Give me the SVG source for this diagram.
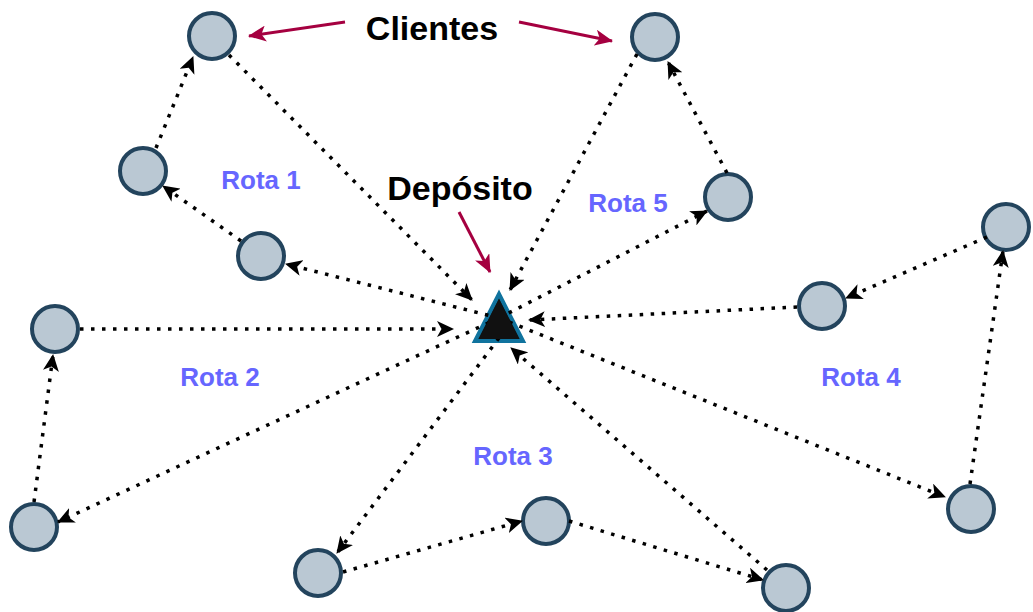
<svg xmlns="http://www.w3.org/2000/svg" width="1033" height="612" viewBox="0 0 1033 612">
  <style>
    .client { fill: #bac8d3; stroke: #23445d; stroke-width: 4; }
    .depot { fill: #111; stroke: #10739e; stroke-width: 4; stroke-linejoin: miter; }
    .depot-core { fill: #111; stroke: none; }
    .route { fill: none; stroke: #000; stroke-width: 3.5; stroke-dasharray: 3.5 7.5; marker-end: url(#head); }
    .pointer { fill: none; stroke: #a50040; stroke-width: 3; marker-end: url(#headRed); }
    .title { font-family: "Liberation Sans", Arial, sans-serif; font-weight: bold; font-size: 34px; fill: #000; text-anchor: middle; }
    .rota { font-family: "Liberation Sans", Arial, sans-serif; font-weight: bold; font-size: 26px; fill: #6666ff; text-anchor: middle; }
  </style>
  <defs>
    <marker id="head" viewBox="0 0 17 16" refX="16" refY="8" markerWidth="17" markerHeight="16" markerUnits="userSpaceOnUse" orient="auto">
      <path d="M0,0 L17,8 L0,16 L4.5,8 Z" fill="#000" stroke="none"/>
    </marker>
    <marker id="headRed" viewBox="0 0 18 16" refX="17" refY="8" markerWidth="18" markerHeight="16" markerUnits="userSpaceOnUse" orient="auto">
      <path d="M0,0 L18,8 L0,16 L4.5,8 Z" fill="#a50040" stroke="none"/>
    </marker>
  </defs>

  <rect width="1033" height="612" fill="#fff"/>

  <!-- depot -->
  <g id="deposito">
    <polygon class="depot" points="499,294 475,341 523,341"/>
  </g>

  <!-- clients -->
  <g id="c1"><circle class="client" cx="212" cy="36" r="23"/></g>
  <g id="c2"><circle class="client" cx="143" cy="171" r="23"/></g>
  <g id="c3"><circle class="client" cx="261" cy="256" r="23"/></g>
  <g id="c4"><circle class="client" cx="55" cy="329" r="23"/></g>
  <g id="c5"><circle class="client" cx="34" cy="527" r="23"/></g>
  <g id="c6"><circle class="client" cx="318" cy="573" r="23"/></g>
  <g id="c7"><circle class="client" cx="546" cy="521" r="23"/></g>
  <g id="c8"><circle class="client" cx="786" cy="588" r="23"/></g>
  <g id="c9"><circle class="client" cx="971" cy="509" r="23"/></g>
  <g id="c10"><circle class="client" cx="822" cy="306" r="23"/></g>
  <g id="c11"><circle class="client" cx="1006" cy="227" r="23"/></g>
  <g id="c12"><circle class="client" cx="728" cy="197" r="23"/></g>
  <g id="c13"><circle class="client" cx="655" cy="37" r="23"/></g>

  <!-- routes -->
  <g id="connectors">
    <!-- Rota 1 -->
    <line class="route" x1="499" y1="318" x2="286" y2="264"/>
    <line class="route" x1="241" y1="241" x2="163" y2="186"/>
    <line class="route" x1="156" y1="148" x2="193" y2="57"/>
    <line class="route" x1="229" y1="55" x2="472" y2="300"/>
    <!-- Rota 2 -->
    <line class="route" x1="80" y1="329" x2="453" y2="329"/>
    <line class="route" x1="499" y1="318" x2="58" y2="522"/>
    <line class="route" x1="34" y1="502" x2="53" y2="355"/>
    <!-- Rota 3 -->
    <line class="route" x1="499" y1="338" x2="337" y2="553"/>
    <line class="route" x1="343" y1="572" x2="522" y2="521"/>
    <line class="route" x1="569" y1="521" x2="763" y2="580"/>
    <line class="route" x1="767" y1="570" x2="511" y2="348"/>
    <!-- Rota 4 -->
    <line class="route" x1="499" y1="318" x2="945" y2="497"/>
    <line class="route" x1="970" y1="484" x2="1003" y2="251"/>
    <line class="route" x1="987" y1="237" x2="846" y2="298"/>
    <line class="route" x1="797" y1="307" x2="529" y2="320"/>
    <!-- Rota 5 -->
    <line class="route" x1="499" y1="318" x2="707" y2="211"/>
    <line class="route" x1="727" y1="173" x2="668" y2="62"/>
    <line class="route" x1="637" y1="54" x2="510" y2="290"/>

    <!-- callout pointers -->
    <line class="pointer" x1="345" y1="22" x2="249" y2="36"/>
    <line class="pointer" x1="519" y1="22" x2="612" y2="41"/>
    <line class="pointer" x1="459" y1="212" x2="490" y2="272"/>
  </g>

  <!-- depot interior kept solid over the route starts -->
  <polygon class="depot-core" points="499,299 479,339 519,339"/>

  <!-- labels -->
  <g id="labels">
    <text class="title" x="432" y="40">Clientes</text>
    <text class="title" x="460" y="200">Depósito</text>
    <text class="rota" x="261" y="189">Rota 1</text>
    <text class="rota" x="220" y="386">Rota 2</text>
    <text class="rota" x="513" y="465">Rota 3</text>
    <text class="rota" x="861" y="386">Rota 4</text>
    <text class="rota" x="628" y="212">Rota 5</text>
  </g>
</svg>
